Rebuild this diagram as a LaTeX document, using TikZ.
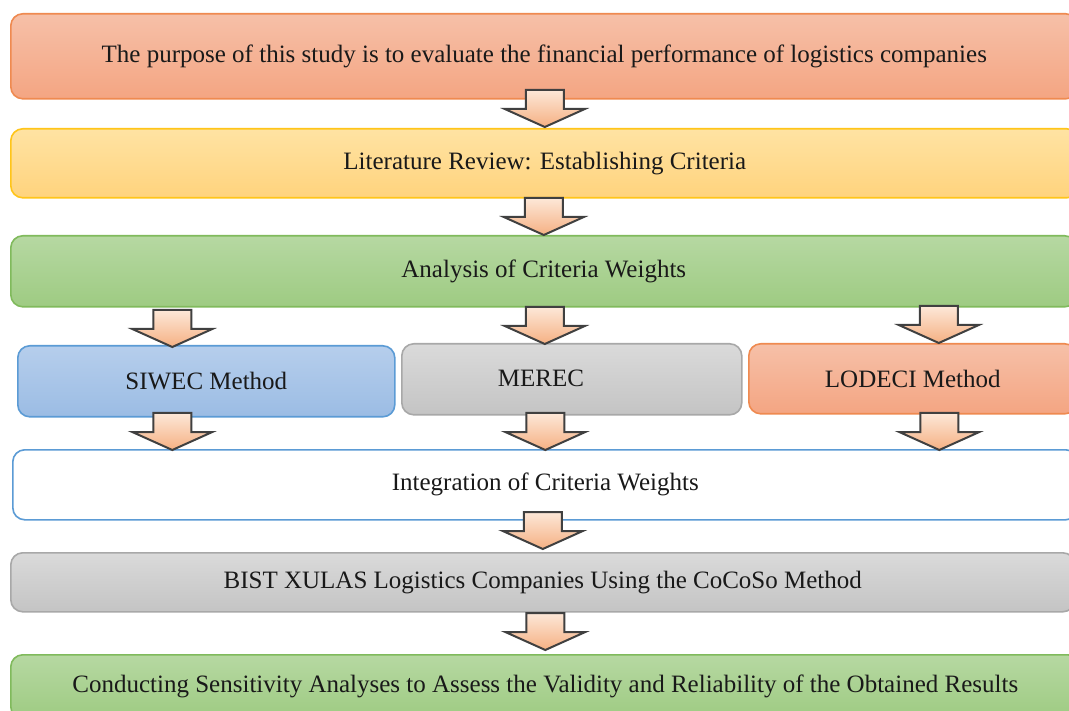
\documentclass[tikz,border=0pt]{standalone}
\usepackage{fontspec}
\setmainfont{Liberation Serif}
\usetikzlibrary{calc}
\definecolor{orT}{HTML}{F6C0A8}
\definecolor{orB}{HTML}{F4A582}
\definecolor{orD}{HTML}{EF8A50}
\definecolor{yeT}{HTML}{FFE3A3}
\definecolor{yeB}{HTML}{FFD37D}
\definecolor{yeD}{HTML}{FFC51A}
\definecolor{grT}{HTML}{B6D8A2}
\definecolor{grB}{HTML}{9ECB82}
\definecolor{grD}{HTML}{80BA5C}
\definecolor{blT}{HTML}{B6CEEC}
\definecolor{blB}{HTML}{9BBCE4}
\definecolor{blD}{HTML}{5B9BD5}
\definecolor{gyT}{HTML}{DADADA}
\definecolor{gyB}{HTML}{C4C4C4}
\definecolor{gyD}{HTML}{A8A8A8}
\definecolor{arT}{HTML}{FDE8D8}
\definecolor{arB}{HTML}{F5B083}
\definecolor{arD}{HTML}{404040}
\tikzset{
  box/.style={rectangle, rounded corners=12pt, line width=1.6pt, inner sep=0pt,
    anchor=north west, font=\fontsize{25}{29}\selectfont, text=black!90},
  orangebox/.style={box, draw=orD, top color=orT, bottom color=orB},
  yellowbox/.style={box, draw=yeD, top color=yeT, bottom color=yeB},
  greenbox/.style={box, draw=grD, top color=grT, bottom color=grB},
  bluebox/.style={box, draw=blD, top color=blT, bottom color=blB},
  graybox/.style={box, draw=gyD, top color=gyT, bottom color=gyB},
  whitebox/.style={box, draw=blD, fill=white},
  label/.style={inner sep=0pt, font=\fontsize{25}{29}\selectfont, text=black!90},
  arrowstyle/.style={draw=arD, line width=2pt, line join=miter, top color=arT, bottom color=arB},
  barrow/.pic={\path[arrowstyle] (0,0) -- (40,-18) -- (19,-18) -- (19,-37) -- (-19,-37) -- (-19,-18) -- (-40,-18) -- cycle;}
}
\begin{document}
\begin{tikzpicture}[x=1pt,y=-1pt]
\useasboundingbox (0,0) rectangle (1069,711);
\clip (0,0) rectangle (1069,711);
\fill[white] (0,0) rectangle (1069,711);
% boxes
\node[orangebox, minimum width=1067pt, minimum height=85pt] (b1) at (10,13)
  {The purpose of this study is to evaluate the financial performance of logistics companies};
\node[yellowbox, minimum width=1068pt, minimum height=69pt] (b2) at (10,128)
  {Literature Review: Establishing Criteria};
\node[greenbox, minimum width=1066pt, minimum height=71pt] (b3) at (10,235)
  {Analysis of Criteria Weights};
\node[bluebox, minimum width=377pt, minimum height=71pt] (siwec) at (17,345)
  {SIWEC Method};
\node[graybox, minimum width=340pt, minimum height=71pt] (merec) at (401,343) {};
\node[label] (merect) at (541,378) {MEREC};
\node[orangebox, minimum width=328pt, minimum height=70pt] (lodeci) at (748,343)
  {LODECI Method};
\node[whitebox, minimum width=1065pt, minimum height=70pt] (integ) at (12,449)
  {Integration of Criteria Weights};
\node[graybox, minimum width=1064pt, minimum height=59pt] (bist) at (10,552)
  {BIST XULAS Logistics Companies Using the CoCoSo Method};
\node[greenbox, minimum width=1069pt, minimum height=64pt] (last) at (10,654)
  {Conducting Sensitivity Analyses to Assess the Validity and Reliability of the Obtained Results};
% block arrows
\pic at ([yshift=1pt]b2.north) {barrow};
\pic at (b3.north) {barrow};
\pic at ([xshift=-34pt,yshift=-2pt]siwec.north) {barrow};
\pic at ([xshift=-27pt,yshift=-1pt]merec.north) {barrow};
\pic at ([xshift=26pt]lodeci.north) {barrow};
\pic at ([xshift=-373pt,yshift=-1pt]integ.north) {barrow};
\pic at ([xshift=0pt,yshift=-1pt]integ.north) {barrow};
\pic at ([xshift=394pt,yshift=-1pt]integ.north) {barrow};
\pic at ([yshift=3pt]bist.north) {barrow};
\pic at ([yshift=4pt]last.north) {barrow};
\end{tikzpicture}
\end{document}
